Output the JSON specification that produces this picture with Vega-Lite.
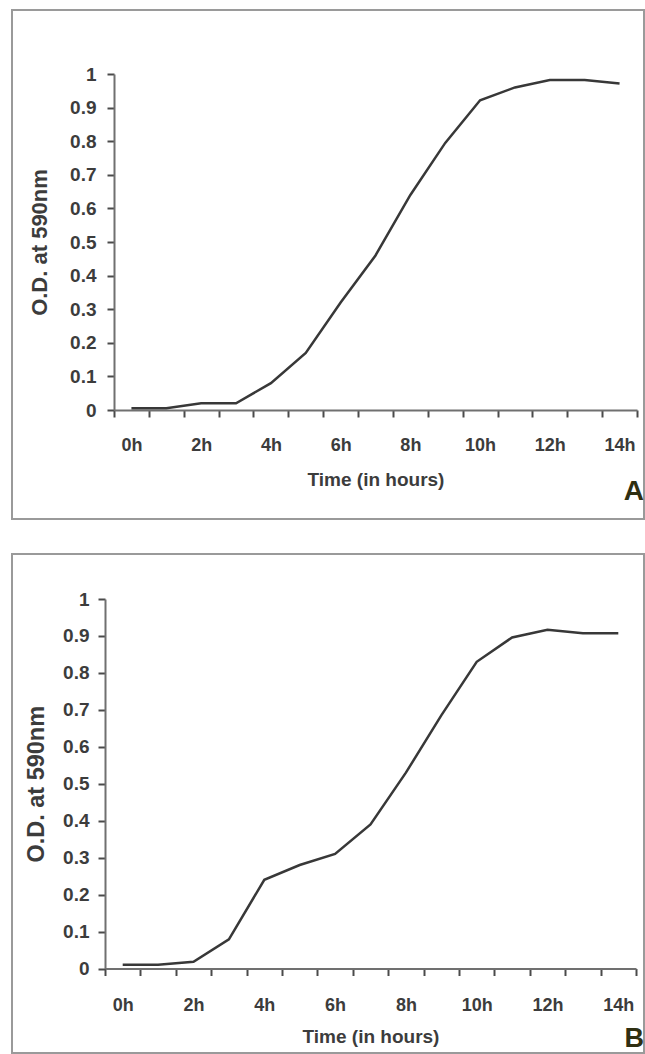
{
  "$schema": "https://vega.github.io/schema/vega-lite/v6.json",
  "padding": {"left": 11, "top": 9, "right": 0, "bottom": 0},
  "background": "white",
  "spacing": 33,
  "config": {
    "font": "Liberation Sans",
    "view": {"stroke": "#9a9a9a", "strokeWidth": 2},
    "axis": {
      "domainColor": "#707070",
      "domainWidth": 2,
      "ticks": true,
      "tickSize": 7,
      "tickWidth": 2,
      "tickColor": "#4a4a4a",
      "labelFont": "Liberation Sans",
      "labelFontWeight": "bold",
      "labelFontSize": 18,
      "labelColor": "#3c3c3c",
      "titleFont": "Liberation Sans",
      "titleFontWeight": "bold",
      "titleColor": "#3c3c3c",
      "grid": false,
      "labelFlush": false,
      "labelOverlap": false
    }
  },
  "datasets": {
    "A": [
      {"hour": 0, "od": 0.005}, {"hour": 1, "od": 0.005}, {"hour": 2, "od": 0.02},
      {"hour": 3, "od": 0.02}, {"hour": 4, "od": 0.08}, {"hour": 5, "od": 0.17},
      {"hour": 6, "od": 0.32}, {"hour": 7, "od": 0.46}, {"hour": 8, "od": 0.64},
      {"hour": 9, "od": 0.795}, {"hour": 10, "od": 0.922}, {"hour": 11, "od": 0.96},
      {"hour": 12, "od": 0.982}, {"hour": 13, "od": 0.982}, {"hour": 14, "od": 0.972}
    ],
    "B": [
      {"hour": 0, "od": 0.01}, {"hour": 1, "od": 0.01}, {"hour": 2, "od": 0.018},
      {"hour": 3, "od": 0.079}, {"hour": 4, "od": 0.24}, {"hour": 5, "od": 0.28},
      {"hour": 6, "od": 0.31}, {"hour": 7, "od": 0.39}, {"hour": 8, "od": 0.53},
      {"hour": 9, "od": 0.685}, {"hour": 10, "od": 0.83}, {"hour": 11, "od": 0.896},
      {"hour": 12, "od": 0.917}, {"hour": 13, "od": 0.907}, {"hour": 14, "od": 0.907}
    ]
  },
  "vconcat": [
    {
      "width": 632,
      "height": 509,
      "data": {"name": "A"},
      "title": {"text": "A", "orient": "bottom", "anchor": "end", "frame": "group", "offset": -41, "baseline": "top", "fontSize": 28, "fontWeight": "bold", "color": "#2f2f12", "font": "Liberation Sans"},
      "mark": {"type": "line", "color": "#383838", "strokeWidth": 2.5},
      "encoding": {
        "x": {
          "field": "hour", "type": "ordinal", "sort": "ascending",
          "scale": {"type": "band", "range": [102, 625], "paddingInner": 0, "paddingOuter": 0},
          "axis": {
            "orient": "bottom", "offset": -109, "tickBand": "extent", "labelAngle": 0,
            "labelExpr": "datum.value % 2 == 0 ? datum.value + 'h' : ''",
            "labelPadding": 19, "title": "Time (in hours)", "titleFontSize": 19, "titlePadding": 16
          }
        },
        "y": {
          "field": "od", "type": "quantitative",
          "scale": {"domain": [0, 1], "range": [400, 64], "nice": false, "zero": false},
          "axis": {
            "offset": -102, "values": [0, 0.1, 0.2, 0.3, 0.4, 0.5, 0.6, 0.7, 0.8, 0.9, 1],
            "format": "~g", "labelFontSize": 19, "labelPadding": 11, "title": "O.D. at 590nm", "titleFontSize": 22, "titlePadding": 18
          }
        }
      }
    },
    {
      "width": 632,
      "height": 499,
      "data": {"name": "B"},
      "title": {"text": "B", "orient": "bottom", "anchor": "end", "frame": "group", "offset": -27, "baseline": "top", "fontSize": 27, "fontWeight": "bold", "color": "#2f2f12", "font": "Liberation Sans"},
      "mark": {"type": "line", "color": "#383838", "strokeWidth": 2.5},
      "encoding": {
        "x": {
          "field": "hour", "type": "ordinal", "sort": "ascending",
          "scale": {"type": "band", "range": [93, 624], "paddingInner": 0, "paddingOuter": 0},
          "axis": {
            "orient": "bottom", "offset": -84.5, "tickBand": "extent", "labelAngle": 0,
            "labelExpr": "datum.value % 2 == 0 ? datum.value + 'h' : ''",
            "labelPadding": 21, "title": "Time (in hours)", "titleFontSize": 19, "titlePadding": 13
          }
        },
        "y": {
          "field": "od", "type": "quantitative",
          "scale": {"domain": [0, 1], "range": [414.5, 45], "nice": false, "zero": false},
          "axis": {
            "offset": -93, "values": [0, 0.1, 0.2, 0.3, 0.4, 0.5, 0.6, 0.7, 0.8, 0.9, 1],
            "format": "~g", "labelFontSize": 19, "labelPadding": 9, "title": "O.D. at 590nm", "titleFontSize": 23.5, "titlePadding": 14
          }
        }
      }
    }
  ]
}
